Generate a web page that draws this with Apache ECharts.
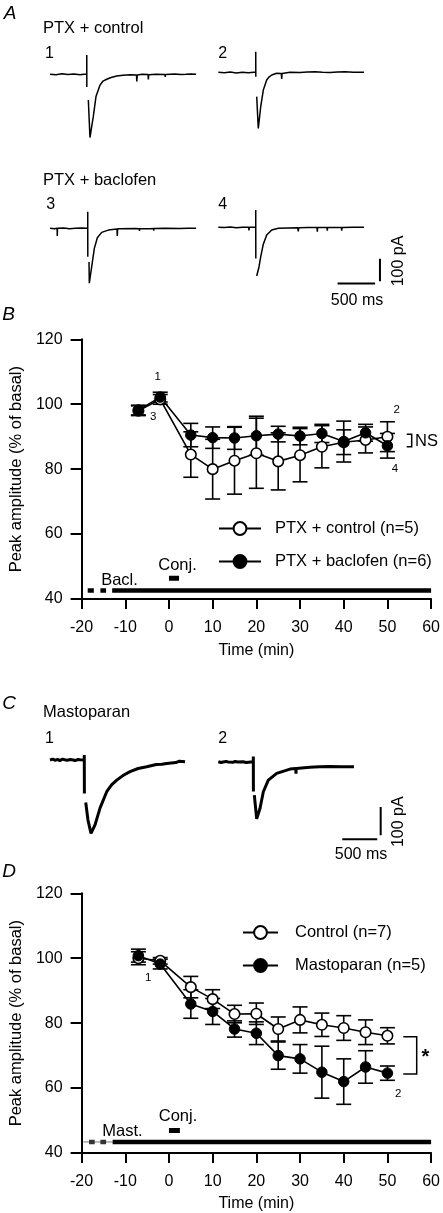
<!DOCTYPE html>
<html><head><meta charset="utf-8">
<script src="https://cdn.jsdelivr.net/npm/echarts@6/dist/echarts.min.js"></script>
<style>html,body{margin:0;padding:0;background:#fff}#c{width:443px;height:1213px}</style>
</head><body><div id="c"></div>
<script>
// ---------- Panel B data ----------
const timeB = [-7, -2, 5, 10, 15, 20, 25, 30, 35, 40, 45, 50];
const ptxControl = [98.0, 101.5, 84.5, 80.0, 82.6, 84.9, 82.4, 84.3, 86.9, 88.3, 89.0, 90.0];
const ptxControlErr = [1.5, 1.5, 7.0, 9.2, 10.3, 10.8, 8.8, 8.2, 6.5, 3.8, 4.0, 4.6];
const ptxBaclofen = [98.2, 102.2, 90.5, 89.7, 89.6, 90.3, 90.8, 90.2, 91.0, 88.5, 91.2, 87.2];
const ptxBaclofenErr = [1.5, 1.5, 3.6, 3.3, 3.5, 6.0, 2.4, 2.7, 2.8, 6.3, 2.6, 3.8];

// ---------- Panel D data ----------
const timeD = [-7, -2, 5, 10, 15, 20, 25, 30, 35, 40, 45, 50];
const control = [100.0, 99.2, 91.1, 87.4, 82.8, 82.9, 78.2, 81.0, 79.5, 78.5, 77.2, 76.1];
const controlErr = [2.0, 1.0, 3.3, 2.9, 2.7, 3.3, 3.7, 4.0, 3.6, 3.8, 3.8, 2.5];
const mastoparan = [100.8, 98.2, 85.9, 83.6, 78.2, 76.9, 70.0, 69.0, 64.9, 62.0, 66.5, 64.6];
const mastoparanErr = [2.0, 1.5, 4.4, 4.0, 2.5, 3.5, 4.2, 4.4, 8.0, 7.0, 5.0, 2.2];

// axis ticks
const timeMin = -20, timeMax = 60, timeStep = 10;
const ampMin = 40, ampMax = 120, ampStep = 20;

// treatment bars (time min)
const baclDashes = [[-18.6, -17.2], [-15.7, -14.4]];
const baclSolid = [-13.0, 60];
const conjB = [0, 2.3];
const mastDashes = [[-18.3, -17.0], [-15.7, -14.4]];
const mastThin = [-19.6, -12.9];
const mastSolid = [-12.9, 60];
const conjD = [0, 2.5];

// ---------- Example traces [ms, pA], null = pen lift ----------
const traceA1 = [[0,0],[80,-2],[160,2],[240,-1],[320,1],[400,-2],[453,0],[490,0],[490,86],[491,-56],null,
  [511,-114],[533,-281],[553,-238],[577,-188],[613,-99],[667,-48],[707,-30],[756,-22],[813,-14],[889,-8],[973,-4],[1067,-2],
  [1153,-3],[1157,-32],[1163,-3],[1230,0],[1307,-1],[1311,-23],[1316,-2],[1413,0],[1533,-1],[1536,-12],[1540,-1],[1667,1],[1740,-1],[1813,0],[1880,1],[1947,0]];
const traceA2 = [[0,0],[80,-2],[160,1],[240,-3],[320,0],[400,-2],[470,0],[499,0],[499,91],[500,-20],null,
  [512,-108],[533,-249],[549,-203],[565,-153],[600,-79],[645,-34],[676,-21],[712,-12],[778,-4],[840,-5],[845,-30],[850,-5],
  [956,0],[1089,-1],[1190,1],[1289,2],[1390,0],[1489,-1],[1589,1],[1689,2],[1800,0],[1942,0]];
const traceA3 = [[0,0],[60,-2],[95,0],[97,-34],[100,0],[180,1],[260,-2],[340,0],[420,1],[503,0],[503,74],[504,-126],null,
  [520,-150],[524,-244],[556,-170],[591,-89],[631,-42],[689,-18],[777,-8],[893,-3],[897,-34],[901,-2],[933,-2],
  [1133,-1],[1190,-2],[1193,-12],[1196,-2],[1333,-2],[1380,-1],[1383,-10],[1386,-1],[1533,0],[1733,-1],[1840,0],[1947,0]];
const traceA4 = [[0,0],[80,-1],[160,1],[240,-2],[320,0],[405,0],[409,-14],[413,0],[499,0],[499,77],[500,-138],null,
  [512,-216],[543,-175],[565,-131],[600,-75],[645,-34],[712,-12],[800,-4],[1060,-2],[1066,-18],[1072,-2],[1200,-1],
  [1316,-1],[1320,-20],[1324,-1],[1449,-1],[1453,-15],[1457,-1],[1641,-1],[1645,-15],[1649,-1],[1800,0],[1942,0]];
const traceC1 = [[0,0],[40,3],[70,-1],[110,2],[140,-2],[180,3],[210,1],[250,-1],[290,2],[330,0],[360,-2],[400,2],[430,1],[490,0],[490,18],[492,-118],null,
  [511,-150],[543,-212],[586,-259],[644,-229],[715,-170],[811,-112],[880,-88],[954,-71],[1050,-54],[1144,-41],[1260,-30],[1383,-24],
  [1520,-16],[1600,-15],[1669,-12],[1800,-9],[1850,-4],[1931,-6]];
const traceC2 = [[0,0],[40,-3],[70,-1],[110,1],[140,-1],[210,-2],[240,1],[280,-1],[350,0],[400,-3],[430,-2],[500,0],[501,18],[502,-105],null,
  [515,-118],[549,-202],[596,-165],[644,-106],[715,-65],[835,-41],[1025,-26],[1108,-24],[1111,-42],[1114,-24],[1311,-20],[1450,-18],[1597,-17],[1760,-18],[1940,-18]];

// scale bars
const scaleMs = 500, scalePA = 100;

const FONT = '"Liberation Sans", Arial, Helvetica, sans-serif';
const chart = echarts.init(document.getElementById('c'), null, {renderer: 'canvas'});

function segs(arr) {
  const out = []; let cur = [];
  arr.forEach(p => { if (p === null) { if (cur.length) out.push(cur); cur = []; } else cur.push(p); });
  if (cur.length) out.push(cur);
  return out;
}

// grids: 0=B, 1=D, 2..5 = A1..A4, 6..7 = C1..C2
const kxA = 13.33, kyA = 4.44, kxC = 14.3, kyC = 3.53;
const traceGrids = [
  {left: 50, base: 74.3, kx: kxA, ky: kyA, xmax: 2200},
  {left: 218.3, base: 72.3, kx: kxA, ky: kyA, xmax: 2200},
  {left: 50, base: 228.3, kx: kxA, ky: kyA, xmax: 2200},
  {left: 218.3, base: 227.3, kx: kxA, ky: kyA, xmax: 2200},
  {left: 50, base: 760, kx: kxC, ky: kyC, xmax: 2400},
  {left: 218.3, base: 761.7, kx: kxC, ky: kyC, xmax: 2400}
];
const grids = [
  {left: 75, top: 339.3, width: 358.3, height: 259.7},
  {left: 75, top: 893.3, width: 358.3, height: 260}
];
traceGrids.forEach(g => grids.push({left: g.left, top: g.base - 100 / g.ky, width: g.xmax / g.kx, height: 400 / g.ky}));

function mainX(i) {
  return {type: 'value', gridIndex: i, min: timeMin, max: timeMax, interval: timeStep,
    name: 'Time (min)', nameLocation: 'middle', nameGap: i === 0 ? 44 : 43,
    nameTextStyle: {fontFamily: FONT, fontSize: 16, color: '#000'},
    axisLine: {show: true, onZero: false, lineStyle: {color: '#000', width: 2}},
    axisTick: {show: true, length: 10, lineStyle: {color: '#000', width: 2}},
    axisLabel: {fontFamily: FONT, fontSize: 16, color: '#000', margin: 21},
    splitLine: {show: false}};
}
function mainY(i) {
  return {type: 'value', gridIndex: i, min: ampMin, max: ampMax, interval: ampStep,
    name: 'Peak amplitude (% of basal)', nameLocation: 'middle', nameGap: 46,
    nameTextStyle: {fontFamily: FONT, fontSize: 16.5, color: '#000'},
    axisLine: {show: true, onZero: false, lineStyle: {color: '#000', width: 2}},
    axisTick: {show: true, length: 11, lineStyle: {color: '#000', width: 2}},
    axisLabel: {fontFamily: FONT, fontSize: 16, color: '#000', margin: 19},
    splitLine: {show: false}};
}
const xAxes = [mainX(0), mainX(1)];
const yAxes = [mainY(0), mainY(1)];
traceGrids.forEach((g, k) => {
  xAxes.push({type: 'value', gridIndex: k + 2, min: 0, max: g.xmax, show: false});
  yAxes.push({type: 'value', gridIndex: k + 2, min: -300, max: 100, show: false});
});

const series = [];
function errRender(params, api) {
  const x = api.value(0), y = api.value(1), e = api.value(2);
  const t = api.coord([x, y + e]), b = api.coord([x, y - e]);
  const w = 7.5, st = {stroke: '#000', lineWidth: 1.6};
  return {type: 'group', children: [
    {type: 'line', shape: {x1: t[0], y1: t[1], x2: b[0], y2: b[1]}, style: st},
    {type: 'line', shape: {x1: t[0] - w, y1: t[1], x2: t[0] + w, y2: t[1]}, style: st},
    {type: 'line', shape: {x1: b[0] - w, y1: b[1], x2: b[0] + w, y2: b[1]}, style: st}
  ]};
}
function addGroup(gi, name, times, vals, errs, open) {
  series.push({type: 'custom', xAxisIndex: gi, yAxisIndex: gi, renderItem: errRender, z: 2,
    data: times.map((t, i) => [t, vals[i], errs[i]]), encode: {x: 0, y: 1}, silent: true});
  series.push({type: 'line', name: name, xAxisIndex: gi, yAxisIndex: gi, z: 3,
    data: times.map((t, i) => [t, vals[i]]), symbol: 'circle', symbolSize: 10.5,
    lineStyle: {color: '#000', width: 1.6},
    itemStyle: open ? {color: '#fff', borderColor: '#000', borderWidth: 1.6} : {color: '#000', borderColor: '#000', borderWidth: 1}});
}
addGroup(0, 'PTX + control (n=5)', timeB, ptxControl, ptxControlErr, true);
addGroup(0, 'PTX + baclofen (n=6)', timeB, ptxBaclofen, ptxBaclofenErr, false);
addGroup(1, 'Control (n=7)', timeD, control, controlErr, true);
addGroup(1, 'Mastoparan (n=5)', timeD, mastoparan, mastoparanErr, false);

function bar(gi, range, level, width, color, z) {
  series.push({type: 'line', xAxisIndex: gi, yAxisIndex: gi, symbol: 'none', silent: true, z: z || 4,
    data: [[range[0], level], [range[1], level]], lineStyle: {color: color || '#000', width: width, cap: 'butt'}});
}
bar(0, baclSolid, 42.6, 4.5);
baclDashes.forEach(d => bar(0, d, 42.6, 4.5));
bar(0, conjB, 46.4, 5);
bar(1, mastThin, 43.4, 1, '#777', 3);
bar(1, mastSolid, 43.4, 4.5);
mastDashes.forEach(d => bar(1, d, 43.4, 4.5, '#333'));
bar(1, conjD, 46.9, 5);

[[traceA1, 2, 1.5], [traceA2, 3, 1.5], [traceA3, 4, 1.5], [traceA4, 5, 1.5], [traceC1, 6, 3], [traceC2, 7, 3]].forEach(([tr, gi, w]) => {
  segs(tr).forEach(s => series.push({type: 'line', xAxisIndex: gi, yAxisIndex: gi, data: s, symbol: 'none', silent: true,
    lineStyle: {color: '#000', width: w}}));
});
// scale bars
function sbar(gi, pts, w) {
  series.push({type: 'line', xAxisIndex: gi, yAxisIndex: gi, data: pts, symbol: 'none', silent: true,
    lineStyle: {color: '#000', width: w, cap: 'butt'}});
}
sbar(5, [[1590, -250], [1590 + scaleMs, -250]], 2);
sbar(5, [[2155, -240], [2155, -240 + scalePA]], 2);
sbar(7, [[1773, -274], [1773 + scaleMs, -274]], 2);
sbar(7, [[2322, -260], [2322, -260 + scalePA]], 2);

function txt(s, x, y, size, opts) {
  opts = opts || {};
  return {type: 'text', x: x, y: y, rotation: opts.rot || 0, z: 100,
    style: {text: s, fill: '#000', align: opts.align || 'center', verticalAlign: 'middle',
      font: (opts.style || '') + ' ' + (opts.weight || '') + ' ' + size + 'px ' + FONT}};
}
const graphics = [
  txt('A', 10, 14, 19, {style: 'italic'}),
  txt('PTX + control', 43, 28, 16.5, {align: 'left'}),
  txt('1', 49.5, 53.5, 16), txt('2', 222.7, 53.5, 16),
  txt('PTX + baclofen', 43, 180, 16.5, {align: 'left'}),
  txt('3', 50.7, 205, 16), txt('4', 222.7, 205, 16),
  txt('500 ms', 357, 301, 16),
  txt('100 pA', 398.3, 261, 16, {rot: Math.PI / 2}),
  txt('B', 8.5, 315, 19, {style: 'italic'}),
  txt('1', 157.7, 377.3, 11.5), txt('3', 153.3, 417.3, 11.5), txt('2', 396.7, 410, 11.5), txt('4', 395, 469.3, 11.5),
  {type: 'polyline', shape: {points: [[406.7, 434.3], [411.7, 434.3], [411.7, 446.7], [406.7, 446.7]]}, style: {stroke: '#000', lineWidth: 1.5, fill: null}},
  txt('NS', 415, 441, 16.5, {align: 'left'}),
  txt('Bacl.', 119.5, 580, 16.5), txt('Conj.', 177.5, 565, 16.5),
  txt('C', 9, 704, 19, {style: 'italic'}),
  txt('Mastoparan', 43, 712.7, 16.5, {align: 'left'}),
  txt('1', 49.5, 738.3, 16), txt('2', 222.7, 738.3, 16),
  txt('500 ms', 361, 855, 16),
  txt('100 pA', 398.3, 821.7, 16, {rot: Math.PI / 2}),
  txt('D', 9, 872, 19, {style: 'italic'}),
  txt('1', 148.3, 978.3, 11.5), txt('2', 398.3, 1094, 11.5),
  {type: 'polyline', shape: {points: [[403.3, 1036.7], [416.7, 1036.7], [416.7, 1074], [403.3, 1074]]}, style: {stroke: '#000', lineWidth: 1.5, fill: null}},
  txt('*', 425.5, 1057, 20, {weight: 'bold'}),
  txt('Mast.', 122.5, 1131.7, 16.5), txt('Conj.', 178, 1116, 16.5)
];

function legendCfg(names, left, top, w, pad) {
  return {data: names, left: left, top: top, orient: 'vertical', itemWidth: w, itemHeight: 16, itemGap: 16,
    selectedMode: false, textStyle: {fontFamily: FONT, fontSize: 16.5, color: '#000', padding: [0, 0, 0, pad]}};
}

chart.setOption({
  animation: false,
  backgroundColor: '#fff',
  grid: grids,
  xAxis: xAxes,
  yAxis: yAxes,
  legend: [
    legendCfg(['PTX + control (n=5)', 'PTX + baclofen (n=6)'], 213, 515, 42, 9),
    legendCfg(['Control (n=7)', 'Mastoparan (n=5)'], 237, 919, 35, 12)
  ],
  series: series,
  graphic: graphics
});
</script></body></html>
